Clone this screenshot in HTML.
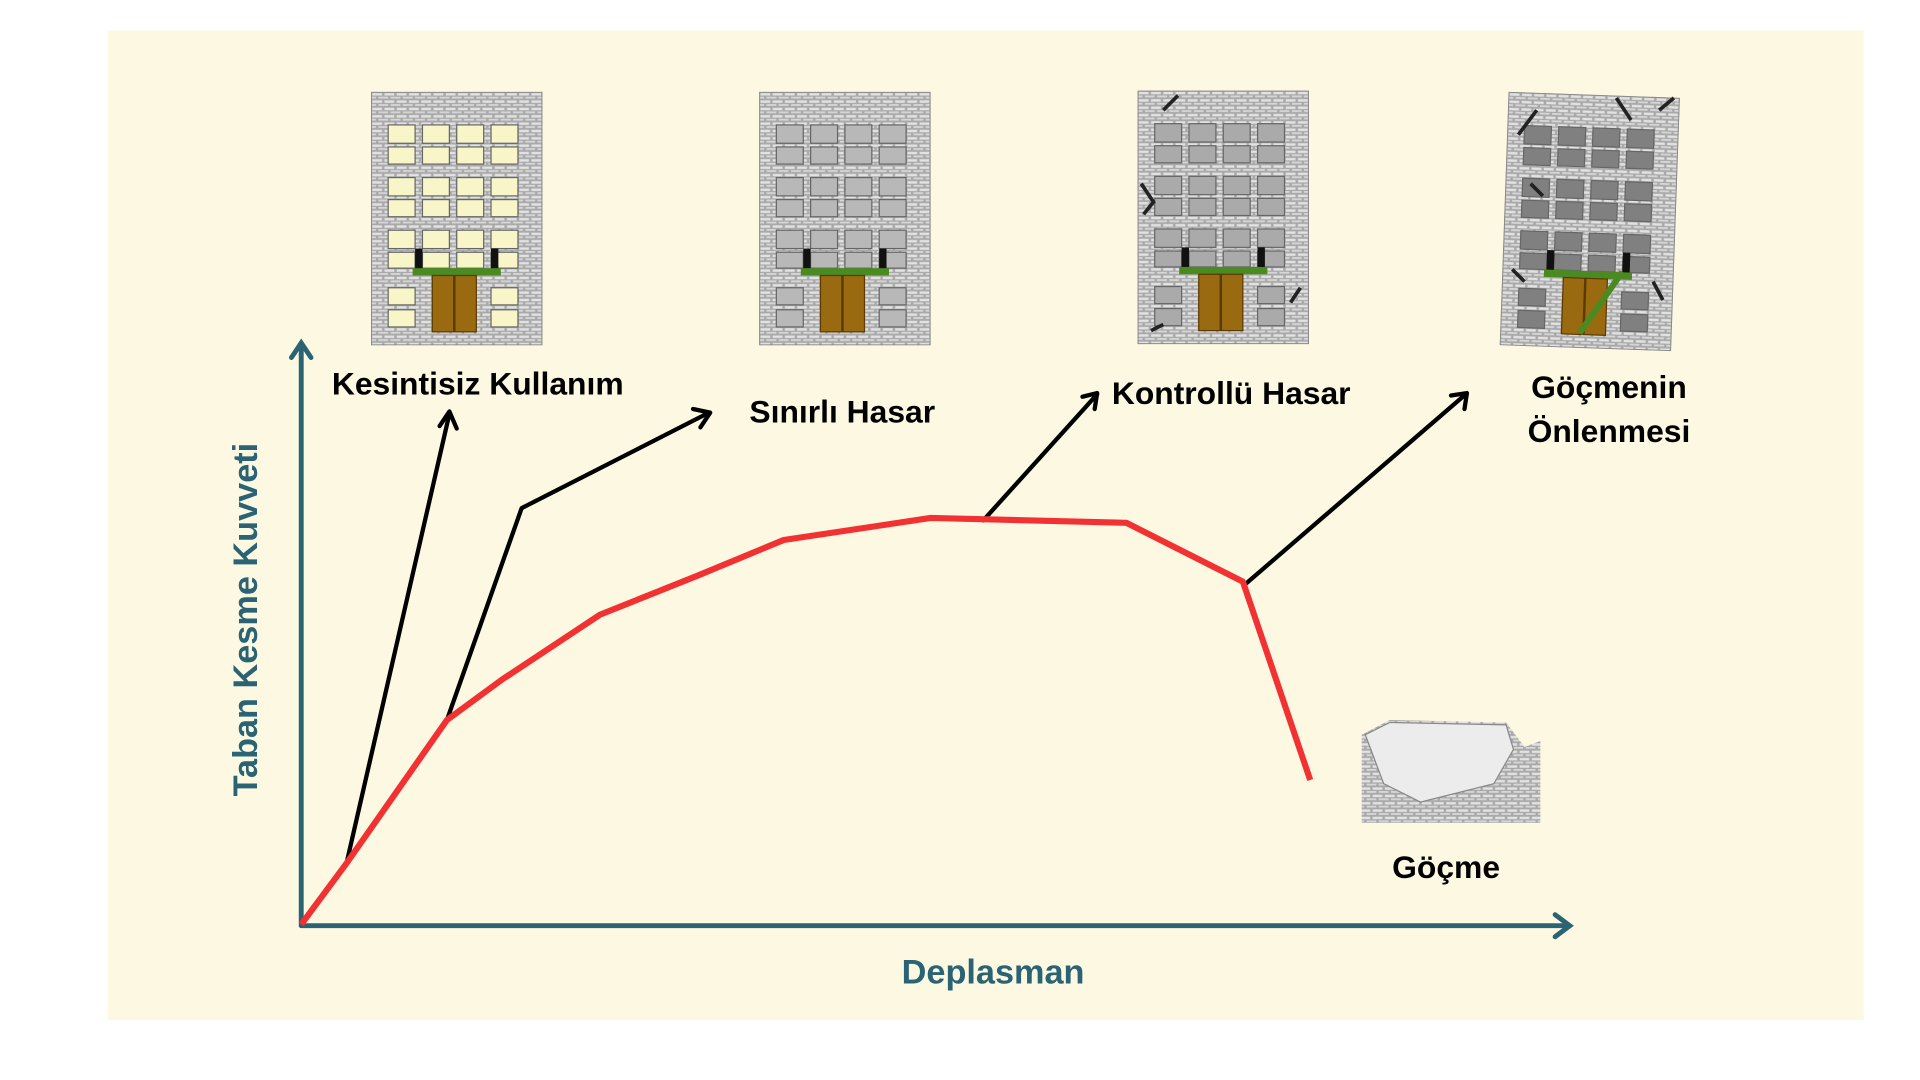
<!DOCTYPE html>
<html><head><meta charset="utf-8"><style>
html,body{margin:0;padding:0;background:#fff;}
svg{display:block;}
text{font-family:"Liberation Sans",sans-serif;font-weight:bold;}
</style></head><body>
<svg width="1920" height="1080" viewBox="0 0 1568 882" xmlns="http://www.w3.org/2000/svg">
<defs>
<pattern id="brick" width="10" height="6" patternUnits="userSpaceOnUse">
<rect width="10" height="6" fill="#a9a9a9"/>
<rect x="1" y="1" width="8" height="2" fill="#e2e2e2"/>
<rect x="-4" y="4" width="8" height="1.5" fill="#d6d6d6"/>
<rect x="6" y="4" width="8" height="1.5" fill="#d6d6d6"/>
</pattern>
<symbol id="bld" viewBox="0 0 140 207" width="140" height="207">
<rect x="0" y="0" width="140" height="207" fill="url(#brick)" stroke="#888" stroke-width="1.5"/>
<g fill="currentColor" stroke="#666" stroke-width="1">
<rect x="14" y="27" width="22" height="15"/><rect x="42" y="27" width="22" height="15"/><rect x="70" y="27" width="22" height="15"/><rect x="98" y="27" width="22" height="15"/>
<rect x="14" y="45" width="22" height="14"/><rect x="42" y="45" width="22" height="14"/><rect x="70" y="45" width="22" height="14"/><rect x="98" y="45" width="22" height="14"/>
<rect x="14" y="70" width="22" height="15"/><rect x="42" y="70" width="22" height="15"/><rect x="70" y="70" width="22" height="15"/><rect x="98" y="70" width="22" height="15"/>
<rect x="14" y="88" width="22" height="14"/><rect x="42" y="88" width="22" height="14"/><rect x="70" y="88" width="22" height="14"/><rect x="98" y="88" width="22" height="14"/>
<rect x="14" y="113" width="22" height="15"/><rect x="42" y="113" width="22" height="15"/><rect x="70" y="113" width="22" height="15"/><rect x="98" y="113" width="22" height="15"/>
<rect x="14" y="131" width="22" height="13"/><rect x="42" y="131" width="22" height="13"/><rect x="70" y="131" width="22" height="13"/><rect x="98" y="131" width="22" height="13"/>
<rect x="14" y="160" width="22" height="14"/><rect x="98" y="160" width="22" height="14"/>
<rect x="14" y="178" width="22" height="14"/><rect x="98" y="178" width="22" height="14"/>
</g>
<rect x="36" y="128" width="6" height="18" fill="#111"/><rect x="98" y="128" width="6" height="18" fill="#111"/>
<rect x="34" y="144" width="72" height="6" fill="#4a8a20"/>
<rect x="50" y="150" width="36" height="46" fill="#9a6a10" stroke="#5a3a00"/>
<line x1="68" y1="150" x2="68" y2="196" stroke="#5a3a00" stroke-width="2"/>
</symbol>
</defs>
<rect x="88" y="25" width="1434" height="808" fill="#fdf8e1"/>

<use href="#bld" x="303" y="75" style="color:#f8f6c8"/>
<use href="#bld" x="620" y="75" style="color:#b8b8b8"/>
<use href="#bld" x="929" y="74" style="color:#aaaaaa"/>
<g stroke="#222" stroke-width="3" fill="none">
<path d="M932 150 l10 15 -8 10 M1062 235 l-8 12 M950 90 l12 -12 M940 270 l10 -5"/>
</g>
<g transform="translate(1232,75) rotate(2)">
<use href="#bld" x="0" y="0" style="color:#808080"/>
</g>
<g stroke="#222" stroke-width="3" fill="none">
<path d="M1240 110 l15 -20 M1320 80 l12 18 M1355 90 l12 -10 M1235 220 l10 10 M1350 230 l8 15 M1250 150 l10 10"/>
</g>
<line x1="1290" y1="272" x2="1325" y2="222" stroke="#4a8a20" stroke-width="5"/>

<g>
<path d="M1112 600 L1135 588 L1230 590 L1245 610 L1258 605 L1258 672 L1112 672 Z" fill="url(#brick)"/>
<path d="M1115 600 L1135 590 L1230 592 L1236 612 L1220 640 L1160 655 L1130 640 Z" fill="#ececec" stroke="#888"/>
</g>

<g stroke="#2a6373" stroke-width="4" fill="none" stroke-linecap="round">
<line x1="246" y1="755" x2="246" y2="282"/>
<path d="M238 292 L246 280 L254 292"/>
<line x1="246" y1="756" x2="1280" y2="756"/>
<path d="M1270 747 L1282 756 L1270 765"/>
</g>

<g stroke="#000" stroke-width="3.5" fill="none" stroke-linecap="round" stroke-linejoin="round">
<line x1="283" y1="705" x2="367" y2="338"/>
<path d="M359 348 L367 336 L373 350"/>
<path d="M365 588 L426 415 L579 337"/>
<path d="M566 334 L580 337 L572 349"/>
<line x1="803" y1="425" x2="896" y2="322"/>
<path d="M884 324 L896 321 L894 334"/>
<line x1="1016" y1="478" x2="1197" y2="322"/>
<path d="M1185 323 L1198 321 L1196 334"/>
</g>

<polyline points="246,755 283,705 365,588 410,555 490,502 570,470 640,441 760,423 920,427 1015,475 1070,637" fill="none" stroke="#f23232" stroke-width="5" stroke-linejoin="round"/>

<g font-size="26" fill="#000">
<text x="271" y="322">Kesintisiz Kullanım</text>
<text x="612" y="345">Sınırlı Hasar</text>
<text x="908" y="330">Kontrollü Hasar</text>
<text x="1314" y="325" text-anchor="middle">Göçmenin</text>
<text x="1314" y="361" text-anchor="middle">Önlenmesi</text>
<text x="1181" y="717" text-anchor="middle">Göçme</text>
</g>
<text x="811" y="803" font-size="28" fill="#2a6373" text-anchor="middle">Deplasman</text>
<text transform="translate(210,506) rotate(-90)" font-size="28" fill="#2a6373" text-anchor="middle">Taban Kesme Kuvveti</text>
</svg>
</body></html>
